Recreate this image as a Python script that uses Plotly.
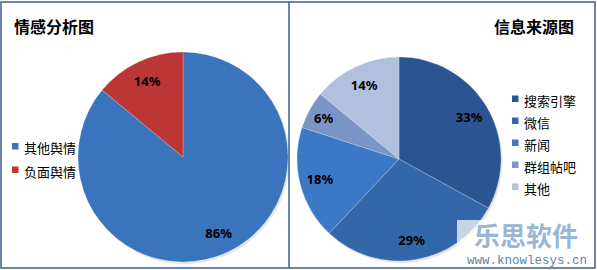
import plotly.graph_objects as go

# ---- data ----
sent_labels = ["其他舆情", "负面舆情"]
sent_values = [86, 14]
sent_colors = ["#3a74bd", "#bb3634"]

src_labels = ["搜索引擎", "微信", "新闻", "群组帖吧", "其他"]
src_values = [33, 29, 18, 6, 14]
src_colors = ["#2b5590", "#3466aa", "#3b79c6", "#7b96c6", "#b1c1dd"]

W, H = 597, 270
FONT = "Noto Sans CJK SC"
LBL_FONT = "Noto Sans"

def px(x):
    return x / W

def py(y):
    return (H - y) / H

fig = go.Figure()

def add_pie(labels, values, colors, box):
    x0, x1, ytop, ybot = box
    dom = dict(x=[px(x0), px(x1)], y=[py(ybot), py(ytop)])
    # soft shadow
    fig.add_trace(go.Pie(
        labels=["shadow"], values=[1], sort=False,
        marker=dict(colors=["rgba(0,0,0,0.10)"], line=dict(width=0)),
        textinfo="none", showlegend=False, hoverinfo="skip",
        domain=dict(x=[px(x0 + 1.5), px(x1 + 1.5)], y=[py(ybot + 2), py(ytop + 2)]),
    ))
    # coloured pie
    fig.add_trace(go.Pie(
        labels=labels, values=values, sort=False,
        direction="clockwise", rotation=0,
        marker=dict(colors=colors, line=dict(color="rgba(255,255,255,0.35)", width=0.6)),
        textinfo="none", domain=dom, showlegend=False, hoverinfo="label+percent",
    ))
    # transparent ring that carries the percentage labels near the rim
    fig.add_trace(go.Pie(
        labels=labels, values=values, sort=False,
        direction="clockwise", rotation=0, hole=0.6,
        marker=dict(colors=["rgba(0,0,0,0)"] * len(values), line=dict(width=0)),
        textinfo="percent", textposition="inside", insidetextorientation="horizontal",
        textfont=dict(family=LBL_FONT, size=13, color="black", weight="bold"),
        domain=dom, showlegend=False, hoverinfo="skip",
    ))

add_pie(sent_labels, sent_values, sent_colors, (78, 288, 52, 262))
add_pie(src_labels, src_values, src_colors, (297, 501, 57, 261))

border = "#3b5f94"
shapes = [
    dict(type="rect", xref="paper", yref="paper", x0=px(1), x1=px(595), y0=py(268), y1=py(2),
         line=dict(color=border, width=1.5)),
    dict(type="line", xref="paper", yref="paper", x0=px(289), x1=px(289), y0=py(268), y1=py(2),
         line=dict(color=border, width=1.5)),
]

annotations = [
    dict(text="<b>情感分析图</b>", x=px(12), y=py(26), xref="paper", yref="paper",
         xanchor="left", yanchor="middle", showarrow=False,
         font=dict(family=FONT, size=16, color="black")),
    dict(text="<b>信息来源图</b>", x=px(576), y=py(26), xref="paper", yref="paper",
         xanchor="right", yanchor="middle", showarrow=False,
         font=dict(family=FONT, size=16, color="black")),
]

# legends (built from label / colour arrays)
def add_legend(labels, colors, x_sq, y0, step):
    for i, (lab, col) in enumerate(zip(labels, colors)):
        yc = y0 + i * step
        shapes.append(dict(type="rect", xref="paper", yref="paper",
                           x0=px(x_sq), x1=px(x_sq + 6.5), y0=py(yc + 2), y1=py(yc - 4.5),
                           fillcolor=col, line=dict(width=0)))
        annotations.append(dict(text=lab, x=px(x_sq + 9.5), y=py(yc), xref="paper", yref="paper",
                                xanchor="left", yanchor="middle", showarrow=False,
                                font=dict(family=FONT, size=13, color="black")))

add_legend(sent_labels, sent_colors, 12, 147.5, 23.5)
add_legend(src_labels, src_colors, 512, 100, 22)

# watermark
shapes.append(dict(type="rect", xref="paper", yref="paper", x0=px(457), x1=px(594),
                   y0=py(267), y1=py(220), line=dict(width=0), fillcolor="rgba(255,255,255,0.72)"))
annotations += [
    dict(text="<b>乐思软件</b>", x=px(526), y=py(234), xref="paper", yref="paper",
         xanchor="center", yanchor="middle", showarrow=False,
         font=dict(family=FONT, size=26, color="rgba(140,172,210,0.9)")),
    dict(text="www.knowlesys.cn", x=px(527), y=py(261), xref="paper", yref="paper",
         xanchor="center", yanchor="middle", showarrow=False,
         font=dict(family="Liberation Mono", size=12.5, color="#5b83b3")),
]

fig.update_layout(
    width=W, height=H,
    margin=dict(l=0, r=0, t=0, b=0),
    paper_bgcolor="white", plot_bgcolor="white",
    shapes=shapes, annotations=annotations,
    showlegend=False,
)

fig.write_html("out.html")
